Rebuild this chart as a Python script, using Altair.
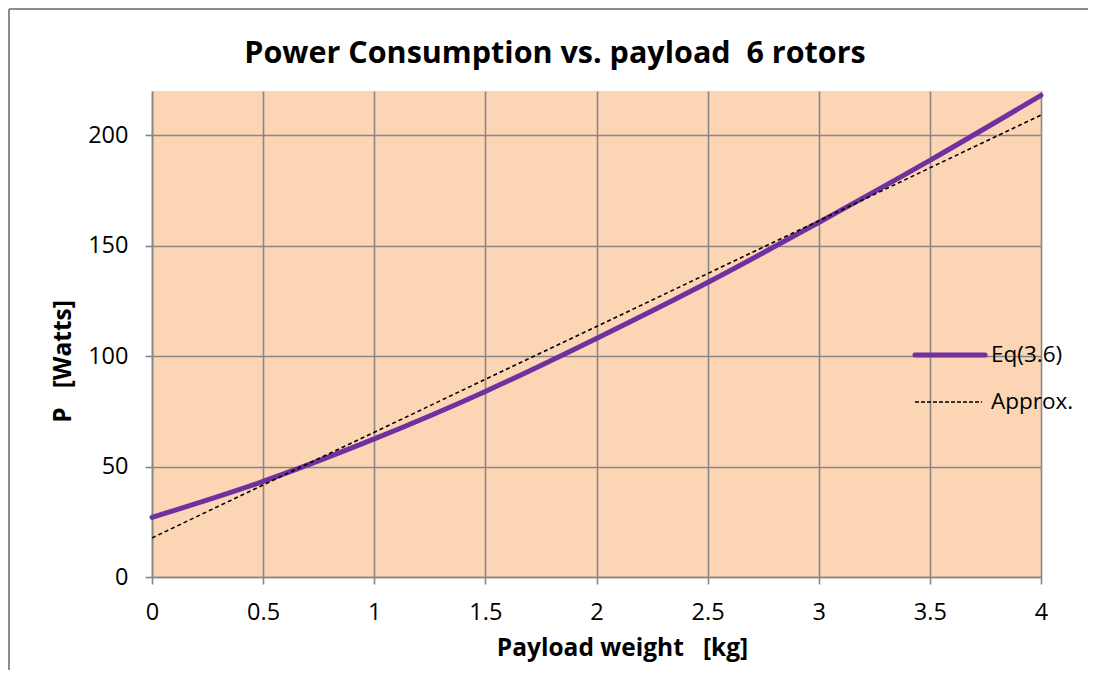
import altair as alt
import pandas as pd

# Data
payload_kg = [0.0, 0.5, 1.0, 1.5, 2.0, 2.5, 3.0, 3.5, 4.0]
power_eq = [27.0, 43.3, 62.5, 84.0, 108.0, 133.3, 160.5, 188.6, 218.0]
approx_x = [0.0, 4.0]
approx_p = [17.7, 209.1]

x_ticks = [0, 0.5, 1, 1.5, 2, 2.5, 3, 3.5, 4]
y_ticks = [0, 50, 100, 150, 200]
legend_labels = ["Eq(3.6)", "Approx."]
title_text = "Power Consumption vs. payload\u00a0\u00a06 rotors"

FONT = "Open Sans"
PURPLE = "#7030A0"
GRID = "#878787"

df_eq = pd.DataFrame({"x": payload_kg, "p": power_eq})
df_ap = pd.DataFrame({"x": approx_x, "p": approx_p})

x_scale = alt.Scale(domain=[0, 4], nice=False, zero=False)
y_scale = alt.Scale(domain=[0, 220], nice=False)

x_axis = alt.Axis(
    values=x_ticks, title="Payload weight\u00a0\u00a0\u00a0[kg]", grid=True,
    gridColor=GRID, gridWidth=1.6, domainColor=GRID, domainWidth=1.6,
    tickColor=GRID, tickWidth=1.6, tickSize=7, labelPadding=16,
    labelFont=FONT, labelFontSize=23.5, labelColor="black", labelFlush=False,
    labelExpr="datum.value",
    titleFont=FONT, titleFontSize=24.5,
    titleFontWeight="bold", titleColor="black", titleX=470, titleY=59,
    titleBaseline="top", titleAlign="center",
)
y_axis = alt.Axis(
    values=y_ticks, title="P\u00a0\u00a0\u00a0[Watts]", grid=True,
    gridColor=GRID, gridWidth=1.6, domainColor=GRID, domainWidth=1.6,
    tickColor=GRID, tickWidth=1.6, tickSize=7, labelPadding=17,
    labelFont=FONT, labelFontSize=23.5, labelColor="black", labelFlush=False,
    titleFont=FONT, titleFontSize=24.5, titleFontWeight="bold",
    titleColor="black", titleX=-89, titleY=270, titleAngle=-90,
    titleBaseline="middle", titleAlign="center",
)

base_x = alt.X("x:Q", scale=x_scale, axis=x_axis)
base_y = alt.Y("p:Q", scale=y_scale, axis=y_axis)

eq_line = alt.Chart(df_eq).mark_line(
    color=PURPLE, strokeWidth=5, interpolate="monotone", strokeCap="round"
).encode(x=base_x, y=base_y)

ap_line = alt.Chart(df_ap).mark_line(
    color="black", strokeWidth=1.6, strokeDash=[4, 3]
).encode(x="x:Q", y="p:Q")

one = pd.DataFrame({"k": [0]})

# outer chart-area border (left and top edges), kept inside the drawing
border_left = alt.Chart(one).mark_rule(
    color="#8c8c8c", strokeWidth=2
).encode(x=alt.value(-143), y=alt.value(-82), y2=alt.value(579))
border_top = alt.Chart(one).mark_rule(
    color="#8c8c8c", strokeWidth=2
).encode(x=alt.value(-143), x2=alt.value(936), y=alt.value(-82))

# chart title
title = alt.Chart(pd.DataFrame({"t": [title_text]})).mark_text(
    font=FONT, fontSize=30.5, fontWeight="bold", color="black",
    align="center", baseline="alphabetic"
).encode(text="t:N", x=alt.value(403), y=alt.value(-28))

# manual legend
leg_eq = alt.Chart(one).mark_rule(
    color=PURPLE, strokeWidth=5, strokeCap="round"
).encode(x=alt.value(763), x2=alt.value(833), y=alt.value(264))
leg_ap = alt.Chart(one).mark_rule(
    color="black", strokeWidth=1.4, strokeDash=[4, 2]
).encode(x=alt.value(763), x2=alt.value(830), y=alt.value(311))
leg_txt_eq = alt.Chart(pd.DataFrame({"label": [legend_labels[0]]})).mark_text(
    font=FONT, fontSize=22.5, align="left", baseline="middle", color="black"
).encode(text="label:N", x=alt.value(839), y=alt.value(264))
leg_txt_ap = alt.Chart(pd.DataFrame({"label": [legend_labels[1]]})).mark_text(
    font=FONT, fontSize=22.5, align="left", baseline="middle", color="black"
).encode(text="label:N", x=alt.value(839), y=alt.value(311))

chart = alt.layer(
    border_left, border_top, eq_line, ap_line, title,
    leg_eq, leg_ap, leg_txt_eq, leg_txt_ap
).properties(
    width=889, height=486,
    autosize=alt.AutoSizeParams(type="none"),
    padding={"left": 144, "top": 83, "right": 50, "bottom": 97},
    background="white",
).configure_view(fill="#FCD5B5", stroke=None)

chart.save("out.html", embed_options={"renderer": "svg", "actions": False})
